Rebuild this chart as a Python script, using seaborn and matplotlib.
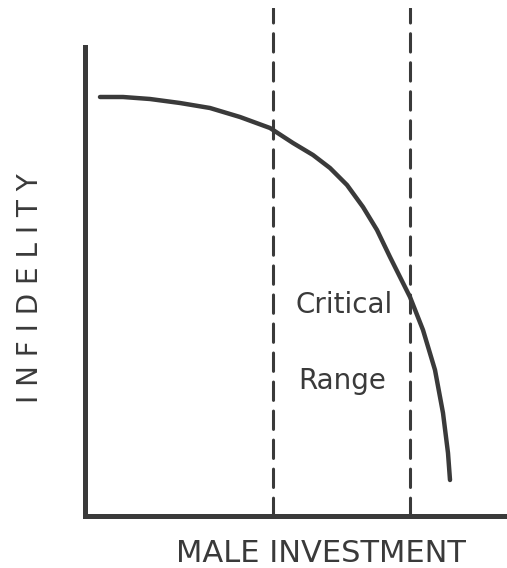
import numpy as np
import pandas as pd
import matplotlib
matplotlib.use("Agg")
import matplotlib.pyplot as plt
import seaborn as sns

# ===== Data (arbitrary units) =====
investment = [1.5, 3.8, 6.5, 9.5, 12.5, 15.5, 18.5, 20.8, 22.8, 24.5, 26.2,
              27.8, 29.2, 30.5, 32.5, 33.8, 35.0, 35.8, 36.3, 36.5]
infidelity = [41.9, 41.9, 41.7, 41.3, 40.8, 39.9, 38.8, 37.3, 36.1, 34.8, 33.1,
              30.9, 28.6, 25.9, 21.9, 18.6, 14.6, 10.3, 6.3, 3.6]
range_edges = [18.8, 32.5]
range_labels = ["Critical", "Range"]

INK = "#3a3a3a"

sns.set_theme(style="white")
plt.rcParams['font.family'] = ['DejaVu Sans']

fig = plt.figure(figsize=(5.07, 5.68), dpi=100)
ax = fig.add_axes([85 / 507, 52 / 568, 422 / 507, 508 / 568])

df = pd.DataFrame({"investment": investment, "infidelity": infidelity})
sns.lineplot(data=df, x="investment", y="infidelity", sort=False, ax=ax,
             color=INK, linewidth=3.2, solid_capstyle="round",
             solid_joinstyle="round")

# dashed bounds of the critical range
for xv in range_edges:
    ax.axvline(xv, ymin=0, ymax=1, color=INK, linewidth=2.2,
               linestyle=(0, (6, 3.5)), dash_capstyle="round")

mid = (range_edges[0] + range_edges[1]) / 2
ax.text(mid + 0.3, 21.1, range_labels[0], ha="center", va="center", fontsize=20, color=INK)
ax.text(mid + 0.1, 13.5, range_labels[1], ha="center", va="center", fontsize=20, color=INK)

ax.set_xlim(0, 42.2)
ax.set_ylim(0, 50.8)
ax.set_xticks([])
ax.set_yticks([])
ax.set_xlabel("MALE INVESTMENT", fontsize=22, color=INK)
ax.xaxis.set_label_coords(0.559, -0.045)
ax.set_ylabel("I N F I D E L I T Y", fontsize=20, color=INK)
ax.yaxis.set_label_coords(-0.096, 0.449)

for side in ["top", "right"]:
    ax.spines[side].set_visible(False)
for side in ["left", "bottom"]:
    ax.spines[side].set_color(INK)
    ax.spines[side].set_linewidth(3.6)
ax.spines["left"].set_bounds(0, 46.9)

fig.savefig("out.png", dpi=100)
